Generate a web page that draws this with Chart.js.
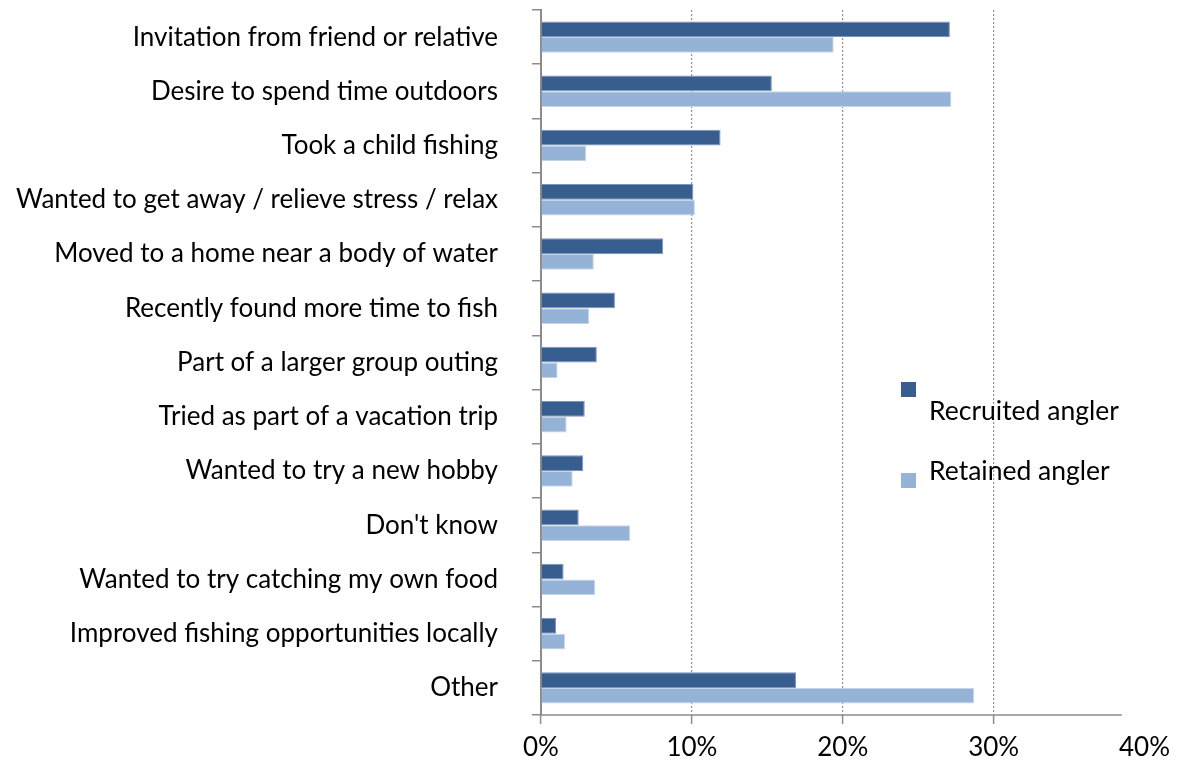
<!DOCTYPE html>
<html>
<head>
<meta charset="utf-8">
<script src="https://cdn.jsdelivr.net/npm/chart.js@4.4.1/dist/chart.umd.min.js"></script>
<style>
  html, body { margin: 0; padding: 0; background: #fff; }
  #wrap { position: relative; width: 1178px; height: 763px; }
</style>
</head>
<body>
<div id="wrap"><canvas id="chart"></canvas></div>
<script>
// --- datos ---
const categories = [
  'Invitation from friend or relative',
  'Desire to spend time outdoors',
  'Took a child fishing',
  'Wanted to get away / relieve stress / relax',
  'Moved to a home near a body of water',
  'Recently found more time to fish',
  'Part of a larger group outing',
  'Tried as part of a vacation trip',
  'Wanted to try a new hobby',
  "Don't know",
  'Wanted to try catching my own food',
  'Improved fishing opportunities locally',
  'Other'
];
const recruited = [27.1, 15.3, 11.9, 10.1, 8.1, 4.9, 3.7, 2.9, 2.8, 2.5, 1.5, 1.0, 16.9];
const retained  = [19.4, 27.2, 3.0, 10.2, 3.5, 3.2, 1.1, 1.7, 2.1, 5.9, 3.6, 1.6, 28.7];
const seriesNames = ['Recruited angler', 'Retained angler'];
const xTicks = [0, 10, 20, 30, 40];

const DARK = '#385E8F';
const LIGHT = '#95B3D7';
const AXIS = '#8c8c8c';
const FONT = 'Lato';

Chart.defaults.font.family = FONT;
Chart.defaults.font.size = 26;
Chart.defaults.color = '#000';

// leyenda a mano, igual que el original (cuadro arriba, texto abajo)
const legendPlugin = {
  id: 'customLegend',
  afterDraw(chart) {
    const ctx = chart.ctx;
    const ds = chart.data.datasets;
    ctx.save();
    ctx.font = `26.5px ${FONT}`;
    ctx.textBaseline = 'middle';
    ctx.fillStyle = ds[0].backgroundColor;
    ctx.fillRect(901, 382, 15, 15);
    ctx.fillStyle = ds[1].backgroundColor;
    ctx.fillRect(901, 473, 15, 15);
    ctx.fillStyle = '#000';
    ctx.fillText(ds[0].label, 929, 411);
    ctx.fillText(ds[1].label, 929, 471);
    ctx.restore();
  }
};

// eje X corto (la linea termina antes del 40%)
const xAxisLine = {
  id: 'xAxisLine',
  afterDatasetsDraw(chart) {
    const { ctx, chartArea, scales: { x } } = chart;
    ctx.save();
    ctx.strokeStyle = AXIS;
    ctx.lineWidth = 1.5;
    ctx.beginPath();
    ctx.moveTo(chartArea.left, chartArea.bottom);
    ctx.lineTo(x.getPixelForValue(38.5), chartArea.bottom);
    ctx.stroke();
    ctx.restore();
  }
};

new Chart(document.getElementById('chart'), {
  type: 'bar',
  data: {
    labels: categories,
    datasets: [
      { label: seriesNames[0], data: recruited, backgroundColor: DARK, borderColor: '#7a96bf', borderWidth: 1 },
      { label: seriesNames[1], data: retained, backgroundColor: LIGHT, borderColor: '#c6d6ea', borderWidth: 1 }
    ]
  },
  options: {
    indexAxis: 'y',
    responsive: true,
    maintainAspectRatio: false,
    animation: false,
    layout: { padding: { top: 10, right: 32, left: 0, bottom: 0 } },
    datasets: { bar: { categoryPercentage: 0.58, barPercentage: 1.0 } },
    plugins: { legend: { display: false }, tooltip: { enabled: false } },
    scales: {
      x: {
        min: 0, max: 40,
        afterBuildTicks: (scale) => { scale.ticks = xTicks.map(v => ({ value: v })); },
        afterFit: (scale) => { scale.height = 48; },
        ticks: { callback: (v) => v + '%', padding: 8, maxRotation: 0, font: { size: 26 } },
        grid: {
          color: (c) => (c.tick && c.tick.value > 0 && c.tick.value < 40) ? '#8f8f8f' : 'rgba(0,0,0,0)',
          tickColor: (c) => (c.tick && c.tick.value < 40) ? AXIS : 'rgba(0,0,0,0)',
          tickLength: 9,
          lineWidth: 1.2,
          tickWidth: 1.5
        },
        border: { display: false, dash: [2, 2] }
      },
      y: {
        afterFit: (scale) => {
          scale.width = 541;
          // el padding de las etiquetas no debe empujar el area del grafico
          scale.paddingTop = 0;
          scale.paddingBottom = 0;
        },
        ticks: { padding: 34, autoSkip: false, font: { size: 26 } },
        grid: { drawOnChartArea: false, color: AXIS, tickLength: 9, lineWidth: 1.5 },
        border: { color: AXIS, width: 2 }
      }
    }
  },
  plugins: [legendPlugin, xAxisLine]
});
</script>
</body>
</html>
